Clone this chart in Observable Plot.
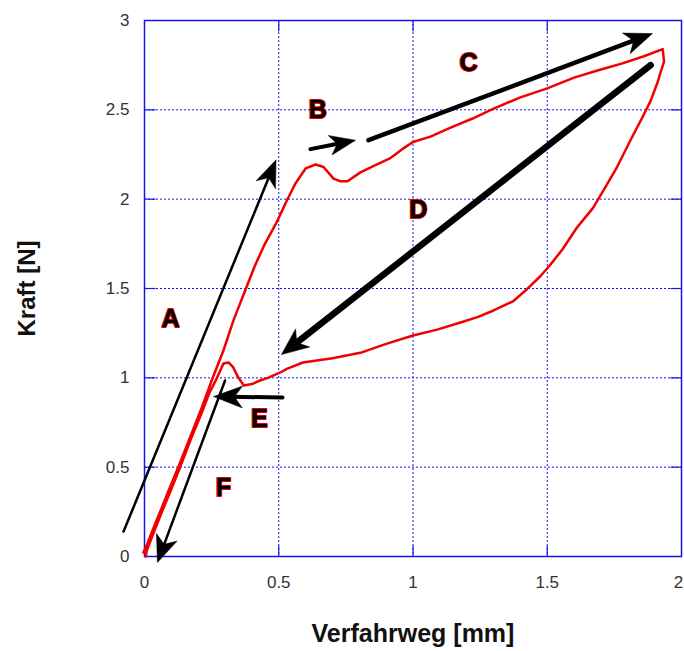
<!DOCTYPE html>
<html><head><meta charset="utf-8">
<script src="https://cdn.jsdelivr.net/npm/d3@7"></script>
<script src="https://cdn.jsdelivr.net/npm/@observablehq/plot@0.6"></script>
<style>body{margin:0;background:#fff}#chart{width:684px;height:651px}</style>
</head><body><div id="chart"></div>
<script>
// ---- data ----
const xDomain = [0, 2];
const yDomain = [0, 3];
const xTicks = [0, 0.5, 1, 1.5, 2];
const yTicks = [0, 0.5, 1, 1.5, 2, 2.5, 3];
const xLabel = "Verfahrweg [mm]";
const yLabel = "Kraft [N]";

// hysteresis curve (Verfahrweg mm, Kraft N)
const curveX = [-0.004,0.011,0.035,0.06,0.09,0.123,0.16,0.19,0.215,0.253,0.294,0.331,0.372,0.41,0.447,0.492,0.532,0.562,0.60,0.637,0.667,0.704,0.73,0.756,0.804,0.86,0.916,0.96,1.0,1.065,1.14,1.22,1.29,1.40,1.50,1.60,1.687,1.78,1.86,1.93,
  1.935,1.92,1.91,1.885,1.855,1.81,1.76,1.71,1.67,1.61,1.557,1.51,1.475,1.42,1.374,1.30,1.24,1.177,1.09,1.0,0.9,0.804,0.70,0.59,0.53,0.506,0.46,0.43,0.40,0.37,0.35,0.33,0.313,0.294,0.27,0.243,0.212,0.171,0.13,0.095,0.065,0.028,0.008,0.005];
const curveY = [0.022,0.073,0.165,0.257,0.37,0.49,0.63,0.745,0.84,0.996,1.153,1.32,1.478,1.623,1.746,1.87,1.998,2.088,2.172,2.194,2.18,2.115,2.10,2.10,2.15,2.19,2.23,2.28,2.32,2.35,2.40,2.45,2.50,2.57,2.62,2.68,2.72,2.76,2.80,2.84,
  2.77,2.70,2.65,2.55,2.46,2.33,2.18,2.05,1.95,1.84,1.72,1.63,1.57,1.49,1.43,1.377,1.34,1.31,1.27,1.237,1.19,1.14,1.11,1.086,1.05,1.03,1.0,0.985,0.965,0.957,1.0,1.06,1.086,1.08,1.0,0.92,0.8,0.65,0.49,0.36,0.25,0.11,0.03,0.0];

// annotation arrows (start -> tip)
const arrowNames = ["A","B","C","D","E","F"];
const arrowX1 = [-0.078, 0.618, 0.834, 1.885, 0.514, 0.300];
const arrowY1 = [0.14, 2.28, 2.33, 2.75, 0.89, 0.985];
const arrowX2 = [0.49, 0.786, 1.892, 0.51, 0.257, 0.048];
const arrowY2 = [2.22, 2.33, 2.927, 1.13, 0.895, -0.034];

// annotation letters
const labelNames = ["A","B","C","D","E","F"];
const labelX = [0.097, 0.645, 1.207, 1.02, 0.428, 0.294];
const labelY = [1.33, 2.50, 2.76, 1.94, 0.77, 0.386];

// ---- layout / style ----
const W = 684, H = 651, mL = 144, mR = 3, mT = 20, mB = 95;
const kx = (W - mL - mR) / (xDomain[1] - xDomain[0]);
const ky = (H - mT - mB) / (yDomain[1] - yDomain[0]);
const arrowStyle = {
  A: {w: 2.5, L: 27, hw: 10.5},
  B: {w: 4, L: 26, hw: 10},
  C: {w: 4.5, L: 28, hw: 11},
  D: {w: 6.5, L: 27, hw: 11.5},
  E: {w: 4, L: 29, hw: 11},
  F: {w: 2.5, L: 27, hw: 11}
};
const blue = "#1414f0";

function headSymbol(angle, L, hw) {
  return {draw(ctx) {
    const c = Math.cos(angle), s = Math.sin(angle);
    const pts = [[0,0],[-L,-hw],[-0.72*L,0],[-L,hw]];
    pts.forEach(([u,v], i) => {
      const px = u*c - v*s, py = u*s + v*c;
      if (i) ctx.lineTo(px, py); else ctx.moveTo(px, py);
    });
    ctx.closePath();
  }};
}
const tickSym = (dx, dy) => ({draw(ctx){ ctx.moveTo(0,0); ctx.lineTo(dx*11, dy*11); }});

const curve = curveX.map((x, i) => ({x, y: curveY[i]}));
const inner = (arr) => arr.slice(1, -1);

const marks = [];
// grid
marks.push(Plot.ruleX(inner(xTicks), {x: d => d, stroke: blue, strokeWidth: 1, strokeDasharray: "2,2"}));
marks.push(Plot.ruleY(inner(yTicks), {y: d => d, stroke: blue, strokeWidth: 1, strokeDasharray: "2,2"}));
// inward ticks on all four sides
marks.push(Plot.dot(inner(xTicks), {x: d => d, frameAnchor: "bottom", symbol: tickSym(0,-1), stroke: blue, fill: "none", strokeWidth: 1.2}));
marks.push(Plot.dot(inner(xTicks), {x: d => d, frameAnchor: "top", symbol: tickSym(0,1), stroke: blue, fill: "none", strokeWidth: 1.2}));
marks.push(Plot.dot(inner(yTicks), {y: d => d, frameAnchor: "left", symbol: tickSym(1,0), stroke: blue, fill: "none", strokeWidth: 1.2}));
marks.push(Plot.dot(inner(yTicks), {y: d => d, frameAnchor: "right", symbol: tickSym(-1,0), stroke: blue, fill: "none", strokeWidth: 1.2}));
marks.push(Plot.frame({stroke: blue, strokeWidth: 1.5}));
// tick labels
const xTickText = {x: d => d, frameAnchor: "bottom", lineAnchor: "middle", textAnchor: "middle", dy: 26, text: d => String(d), fontSize: 17, fill: "#333"};
marks.push(Plot.text(xTicks.slice(0, -1), xTickText));
marks.push(Plot.text(xTicks.slice(-1), {...xTickText, dx: -3}));
marks.push(Plot.text(yTicks, {y: d => d, frameAnchor: "left", lineAnchor: "middle", dx: -15, textAnchor: "end", text: d => String(d), fontSize: 17, fill: "#333"}));
// axis labels
marks.push(Plot.text([xLabel], {frameAnchor: "bottom", lineAnchor: "middle", textAnchor: "middle", dy: 77, text: d => d, fontSize: 25, fontWeight: "bold", fill: "#111"}));
marks.push(Plot.text([yLabel], {frameAnchor: "left", lineAnchor: "middle", textAnchor: "middle", dx: -117, rotate: -90, text: d => d, fontSize: 24, fontWeight: "bold", fill: "#111"}));
// curve
marks.push(Plot.line(curve, {x: "x", y: "y", stroke: "#f00000", strokeWidth: 2.5, strokeLinejoin: "round", curve: "linear"}));
// arrows
arrowNames.forEach((n, i) => {
  const st = arrowStyle[n];
  const a = {x1: arrowX1[i], y1: arrowY1[i], x2: arrowX2[i], y2: arrowY2[i]};
  const ang = Math.atan2(-(a.y2 - a.y1) * ky, (a.x2 - a.x1) * kx);
  marks.push(Plot.arrow([a], {x1: "x1", y1: "y1", x2: "x2", y2: "y2", stroke: "black", strokeWidth: st.w, headLength: 0, insetEnd: st.L * 0.6}));
  marks.push(Plot.dot([a], {x: "x2", y: "y2", symbol: headSymbol(ang, st.L, st.hw), fill: "black", stroke: "black", strokeWidth: 0.5}));
});
// letters
const labels = labelNames.map((t, i) => ({t, x: labelX[i], y: labelY[i]}));
marks.push(Plot.text(labels, {x: "x", y: "y", text: "t", fontSize: 25, fontWeight: "bold", fill: "black", stroke: "#e00000", strokeWidth: 2, paintOrder: "stroke"}));

const chart = Plot.plot({
  width: W, height: H,
  marginLeft: mL, marginRight: mR, marginTop: mT, marginBottom: mB,
  x: {domain: xDomain, axis: null},
  y: {domain: yDomain, axis: null},
  style: {fontFamily: "'Liberation Sans', Arial, sans-serif", background: "white", overflow: "visible"},
  marks
});
document.getElementById("chart").appendChild(chart);
</script>
</body></html>
